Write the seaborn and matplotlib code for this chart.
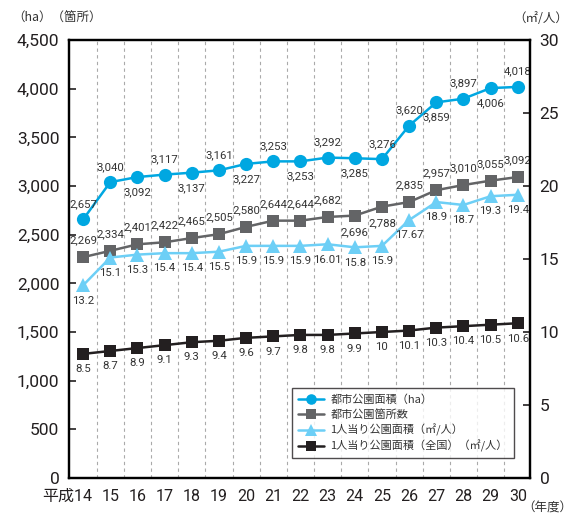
import matplotlib
matplotlib.use("Agg")
import matplotlib.pyplot as plt
import matplotlib.transforms as mtrans
import seaborn as sns
import numpy as np

sns.set_theme(style="white")
plt.rcParams['font.family'] = ['Roboto', 'Noto Sans CJK JP', 'DejaVu Sans']

years = ["平成14", "15", "16", "17", "18", "19", "20", "21", "22", "23", "24",
         "25", "26", "27", "28", "29", "30"]
park_area_ha = [2657, 3040, 3092, 3117, 3137, 3161, 3227, 3253, 3253, 3292, 3285,
                3276, 3620, 3859, 3897, 4006, 4018]
park_count = [2269, 2334, 2401, 2422, 2465, 2505, 2580, 2644, 2644, 2682, 2696,
              2788, 2835, 2957, 3010, 3055, 3092]
area_per_person = [13.2, 15.1, 15.3, 15.4, 15.4, 15.5, 15.9, 15.9, 15.9, 16.01, 15.8,
                   15.9, 17.67, 18.9, 18.7, 19.3, 19.4]
area_per_person_national = [8.5, 8.7, 8.9, 9.1, 9.3, 9.4, 9.6, 9.7, 9.8, 9.8, 9.9,
                            10, 10.1, 10.3, 10.4, 10.5, 10.6]
area_labels = ["2,657", "3,040", "3,092", "3,117", "3,137", "3,161", "3,227", "3,253",
               "3,253", "3,292", "3,285", "3,276", "3,620", "3,859", "3,897", "4,006", "4,018"]
count_labels = ["2,269", "2,334", "2,401", "2,422", "2,465", "2,505", "2,580", "2,644",
                "2,644", "2,682", "2,696", "2,788", "2,835", "2,957", "3,010", "3,055", "3,092"]
per_person_labels = ["13.2", "15.1", "15.3", "15.4", "15.4", "15.5", "15.9", "15.9", "15.9",
                     "16.01", "15.8", "15.9", "17.67", "18.9", "18.7", "19.3", "19.4"]
national_labels = ["8.5", "8.7", "8.9", "9.1", "9.3", "9.4", "9.6", "9.7", "9.8", "9.8",
                   "9.9", "10", "10.1", "10.3", "10.4", "10.5", "10.6"]
series_names = ["都市公園面積（ha）", "都市公園箇所数", "1人当り公園面積（㎡/人）",
                "1人当り公園面積（全国）（㎡/人）"]

# label placement (layout): +1 above, -1 below
area_place = [1, 1, -1, 1, -1, 1, -1, 1, -1, 1, -1, 1, 1, -1, 1, -1, 1]
count_place = [1] * 10 + [-1, -1] + [1] * 5

c_area = "#00a7e1"
c_count = "#636466"
c_pp = "#6dcff6"
c_nat = "#231f20"
txt = "#333333"

x = np.arange(len(years))

fig = plt.figure(figsize=(5.73, 5.15), dpi=100)
ax = fig.add_axes([69/573, 1-478/515, (530-69)/573, (478-40)/515])
ax2 = ax.twinx()

lw = 1.8
sns.lineplot(x=x, y=park_area_ha, ax=ax, color=c_area, marker='o', markersize=9.5,
             markeredgewidth=0, linewidth=lw, label=series_names[0], zorder=4)
sns.lineplot(x=x, y=park_count, ax=ax, color=c_count, marker='s', markersize=9,
             markeredgewidth=0, linewidth=lw, label=series_names[1], zorder=4)
sns.lineplot(x=x, y=area_per_person, ax=ax2, color=c_pp, marker='^', markersize=10,
             markeredgewidth=0, linewidth=lw, label=series_names[2], zorder=4)
sns.lineplot(x=x, y=area_per_person_national, ax=ax2, color=c_nat, marker='s', markersize=9,
             markeredgewidth=0, linewidth=lw, label=series_names[3], zorder=4)

ax.set_ylim(0, 4500)
ax2.set_ylim(0, 30)
ax.set_xlim(-0.52, 16.45)
ax.set_yticks(np.arange(0, 4501, 500))
ax.set_yticklabels([f"{v:,}" for v in range(0, 4501, 500)])
ax2.set_yticks(np.arange(0, 31, 5))
ax.set_xticks(x)
ax.set_xticklabels(years)
ax.set_xlabel("")
ax.set_ylabel("")
ax2.set_ylabel("")

for a in (ax, ax2):
    for s in a.spines.values():
        s.set_color("black")
        s.set_linewidth(1.6)
ax.tick_params(axis='y', direction='in', length=5, width=1.2, labelsize=12.5, pad=7, colors='#231f20')
ax2.tick_params(axis='y', direction='in', length=5, width=1.2, labelsize=12.5, pad=7, colors='#231f20')
ax.tick_params(axis='x', length=0, labelsize=11.5, pad=8, colors='#231f20')

first = ax.get_xticklabels()[0]
first.set_ha('right')
first.set_transform(first.get_transform() + mtrans.ScaledTranslation(9/100, 0, fig.dpi_scale_trans))

for b in np.arange(0.5, 16, 1.0):
    ax.axvline(b, color='#aaaaaa', linestyle=(0, (3, 3)), linewidth=0.8, zorder=0)
ax.grid(False)
ax2.grid(False)

lab_kw = dict(fontsize=8.2, color=txt, ha='center', va='center', zorder=6)
for i in range(len(x)):
    ax.annotate(area_labels[i], (x[i], park_area_ha[i]), textcoords='offset points',
                xytext=(0, 11 * area_place[i]), **lab_kw)
    ax.annotate(count_labels[i], (x[i], park_count[i]), textcoords='offset points',
                xytext=(0, 12 * count_place[i]), **lab_kw)
    ax2.annotate(per_person_labels[i], (x[i], area_per_person[i]), textcoords='offset points',
                 xytext=(0, -11), **lab_kw)
    ax2.annotate(national_labels[i], (x[i], area_per_person_national[i]), textcoords='offset points',
                 xytext=(0, -11), **lab_kw)

h1, l1 = ax.get_legend_handles_labels()
h2, l2 = ax2.get_legend_handles_labels()
if ax.get_legend():
    ax.get_legend().remove()
if ax2.get_legend():
    ax2.get_legend().remove()
cjk = ['Noto Sans CJK JP', 'DejaVu Sans']
leg = ax2.legend(h1 + h2, l1 + l2, loc='lower right', bbox_to_anchor=(0.965, 0.045),
                 borderaxespad=0, frameon=True, fancybox=False,
                 handlelength=2.3, handletextpad=0.6, labelspacing=0.35, borderpad=0.55,
                 markerscale=0.8, prop={'family': cjk, 'size': 8})
leg.get_frame().set_edgecolor('#231f20')
leg.get_frame().set_linewidth(1.0)
for t in leg.get_texts():
    t.set_color(txt)

fig.text(12/573, 1-18/515, "（ha）（箇所）", fontsize=9, ha='left', va='center', color=txt, family=cjk)
fig.text(568/573, 1-18/515, "（㎡/人）", fontsize=9, ha='right', va='center', color=txt, family=cjk)
fig.text(572/573, 1-508/515, "（年度）", fontsize=9, ha='right', va='center', color=txt, family=cjk)

fig.savefig("out.png", dpi=100)
